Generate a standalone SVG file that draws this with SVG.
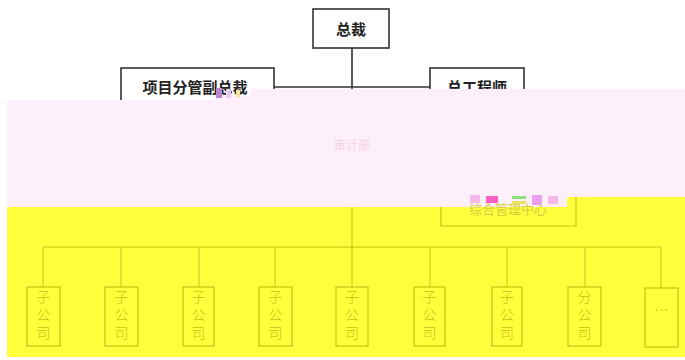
<svg xmlns="http://www.w3.org/2000/svg" width="685" height="360" viewBox="0 0 685 360">
<style>
.box{fill:#fff;stroke:#333;stroke-width:1.6}
.t{font-family:"Noto Sans CJK SC","Noto Sans",sans-serif;font-size:15px;font-weight:bold;fill:#222;text-anchor:middle}
.ln{stroke:#333;stroke-width:1.6;fill:none}
.ybox{fill:none;stroke:#c8c012;stroke-width:1.2}
.yln{stroke:#c8c012;stroke-width:1;fill:none}
.yt{font-family:"Noto Sans CJK SC","Noto Sans",sans-serif;font-size:14px;font-weight:300;fill:#c8c012;writing-mode:vertical-rl;letter-spacing:4px}
</style>
<rect width="685" height="360" fill="#fff"/>
<g id="connectors">
<path class="ln" d="M352 48V100M274 87H430"/>
</g>
<g id="n-ceo"><rect class="box" x="313" y="9" width="76" height="39"/><text class="t" x="351" y="35">总裁</text></g>
<g id="n-vp"><rect class="box" x="121" y="68" width="153" height="50"/><text class="t" x="195" y="93">项目分管副总裁</text></g>
<g id="n-ce"><rect class="box" x="430" y="68" width="94" height="50"/><text class="t" x="477" y="93">总工程师</text></g>
<path d="M7 100H215V96H250V89H685V207H7Z" fill="#fdf0fa"/>
<g fill="#b98ad0"><rect x="216" y="88" width="6" height="10"/><rect x="226" y="90" width="5" height="8" fill="#e8c8ef"/><rect x="236" y="90" width="4" height="7" fill="#f4e6a0"/></g>
<text x="352" y="150" font-family="Noto Sans CJK SC,sans-serif" font-size="12" fill="#f4d0e2" text-anchor="middle">审计部</text>
<rect x="7" y="207" width="678" height="150" fill="#ffff3c"/>
<rect x="567" y="197" width="118" height="10" fill="#ffff3c"/>
<g fill="#f6b8e8"><rect x="470" y="195" width="10" height="8"/><rect x="486" y="196" width="12" height="7" fill="#ff60c8"/><rect x="512" y="196" width="14" height="3" fill="#8ce07a"/><rect x="512" y="201" width="14" height="3" fill="#f0e060"/><rect x="532" y="195" width="10" height="10" fill="#e8a0f0"/><rect x="548" y="196" width="10" height="8"/></g>
<g id="yconnectors">
<path class="yln" d="M352 207V287M43 247H661M43 247V287M121 247V287M199 247V287M275 247V287M430 247V287M507 247V287M585 247V287M661 247V288"/>
</g>
<g id="n-admin"><path class="ybox" d="M441 207V226H576V197"/><text x="508" y="214" font-family="Noto Sans CJK SC,sans-serif" font-size="13" fill="#d8cc40" text-anchor="middle">综合管理中心</text></g>
<g id="n-s1"><rect class="ybox" x="27" y="287" width="33" height="59"/><text class="yt" x="43.5" y="290">子公司</text></g>
<g id="n-s2"><rect class="ybox" x="105" y="287" width="33" height="59"/><text class="yt" x="121.5" y="290">子公司</text></g>
<g id="n-s3"><rect class="ybox" x="183" y="287" width="31" height="59"/><text class="yt" x="198.5" y="290">子公司</text></g>
<g id="n-s4"><rect class="ybox" x="259" y="287" width="33" height="59"/><text class="yt" x="275.5" y="290">子公司</text></g>
<g id="n-s5"><rect class="ybox" x="336" y="287" width="32" height="59"/><text class="yt" x="352" y="290">子公司</text></g>
<g id="n-s6"><rect class="ybox" x="414" y="287" width="31" height="59"/><text class="yt" x="429.5" y="290">子公司</text></g>
<g id="n-s7"><rect class="ybox" x="492" y="287" width="30" height="59"/><text class="yt" x="507" y="290">子公司</text></g>
<g id="n-b1"><rect class="ybox" x="568" y="287" width="33" height="59"/><text class="yt" x="584.5" y="290">分公司</text></g>
<g id="n-more"><rect class="ybox" x="645" y="288" width="33" height="59"/><text x="661.5" y="315" font-family="Noto Sans CJK SC,sans-serif" font-size="14" fill="#c8c012" text-anchor="middle">…</text></g>
</svg>
